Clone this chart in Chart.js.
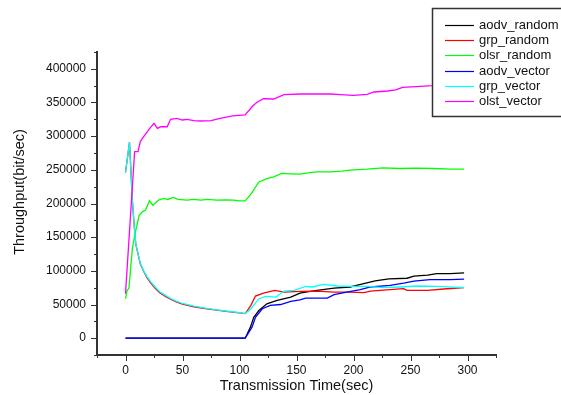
<!DOCTYPE html>
<html>
<head>
<meta charset="utf-8">
<script src="https://cdn.jsdelivr.net/npm/chart.js@4"></script>
<style>
  html, body { margin: 0; padding: 0; background: #fff; }
  canvas { display: block; }
</style>
</head>
<body>
<canvas id="chart" width="561" height="395"></canvas>
<script>
// ---- data: [time (sec), throughput (bit/sec)] ----
const seriesNames = ['aodv_random', 'grp_random', 'olsr_random', 'aodv_vector', 'grp_vector', 'olst_vector'];
const seriesColors = ['#000000', '#ff0000', '#00ff00', '#0000ff', '#00ffff', '#ff00ff'];

const aodvRandom = [
  [0, 0], [105, 0], [109.6, 16400], [112.5, 31000], [117, 41000], [124, 51000], [133, 56000],
  [145, 61000], [153, 67000], [158, 68500], [168, 71000], [183, 74400], [197, 76000], [209, 81000],
  [219, 85000], [231, 88000], [247, 89000], [253, 92000], [265, 93500], [273, 96000], [285, 96000], [297, 97000]
];
const grpRandom = [
  [0, 246000], [3.5, 291000], [5, 240000], [6, 205000], [7.5, 170000], [9, 140000], [13, 110000],
  [16, 99000], [19, 89500], [22, 82000], [26, 74000], [30, 67500], [35, 62000], [40, 57500],
  [45, 53500], [50, 50500], [60, 46500], [70, 44000], [80, 41500], [90, 39500], [100, 37500],
  [105, 36500], [110, 48700], [114, 62500], [121, 67000], [131, 71000], [139, 68500], [153, 69500],
  [168, 70000], [183, 68500], [197, 68500], [209, 67500], [215, 70000], [232, 72000], [244, 73500],
  [247, 71000], [265, 71000], [279, 73000], [297, 75000]
];
const olsrRandom = [
  [0, 58600], [1.5, 71000], [3, 74000], [6, 133000], [9, 160000], [12, 182500], [15, 188000],
  [17.5, 190000], [21, 204000], [24, 197500], [29, 205000], [33.6, 207500], [37, 206000], [42, 209000],
  [46, 206000], [54, 205000], [60, 206000], [66, 205000], [72, 206000], [80, 205000], [88, 205500],
  [95, 205000], [100, 204000], [105, 204000], [110, 214000], [117, 232000], [124, 237000], [130, 239500],
  [137, 244600], [145, 244000], [153, 243600], [160, 245500], [168, 247000], [180, 247000], [190, 248000],
  [197, 249500], [212, 251000], [226, 253000], [241, 252000], [255, 252500], [270, 252000], [285, 251000],
  [297, 251000]
];
const aodvVector = [
  [0, 0], [105, 0], [111, 16400], [114, 31000], [120, 43700], [127, 48700], [136, 50000], [145, 54600],
  [153, 57000], [158, 59500], [177, 59500], [183, 64600], [194, 68500], [206, 72000], [215, 76000],
  [232, 78400], [244, 81800], [253, 84800], [267, 86900], [285, 86900], [297, 87800]
];
const grpVector = [
  [0, 246000], [3.5, 291000], [5, 240000], [6, 205000], [7.5, 170000], [9, 140000], [13, 111000],
  [16, 100000], [19, 91000], [22, 84000], [26, 76000], [30, 69000], [35, 63500], [40, 58500],
  [45, 54500], [50, 51500], [60, 47500], [70, 44500], [80, 42000], [90, 40000], [100, 38000],
  [105, 36500], [110, 43700], [117, 58600], [123, 62000], [132, 61000], [139, 70000], [148, 71000],
  [158, 77000], [164, 76000], [174, 80000], [186, 77500], [200, 77000], [212, 77000], [227, 75000],
  [241, 76000], [256, 77500], [273, 77000], [297, 75000]
];
const olstVector = [
  [0, 66000], [8, 277000], [11, 277000], [13, 292000], [15, 297000], [19, 306500], [22, 313000],
  [25, 319000], [28, 311500], [31, 314000], [36.6, 314000], [39.5, 325000], [45, 326500], [50, 324000],
  [54, 325000], [60, 323000], [66, 322500], [75, 323000], [83, 326500], [94, 330000], [105, 331500],
  [111, 343700], [115, 350000], [121, 355600], [130, 355200], [139, 361600], [153, 362600], [168, 362600],
  [180, 362600], [189, 361600], [200, 360700], [212, 362000], [218, 365600], [230, 367100], [237, 368600],
  [243, 372600], [255, 373500], [269, 375000], [285, 378000], [297, 380000]
];
const seriesData = [aodvRandom, grpRandom, olsrRandom, aodvVector, grpVector, olstVector];

const xMin = -25, xMax = 325, xStep = 25, xLabelStep = 50;
const yMin = -25000, yMax = 425000, yStep = 25000, yLabelStep = 50000;

const FONT = '"Liberation Sans", Arial, sans-serif';
const AXIS = '#333';

// tick marks: long at labelled ticks, short between (outside the plot)
const tickMarks = {
  id: 'tickMarks',
  afterDraw(chart) {
    const ctx = chart.ctx;
    const { x, y } = chart.scales;
    ctx.save();
    ctx.strokeStyle = AXIS;
    ctx.lineWidth = 1;
    ctx.beginPath();
    x.ticks.forEach(t => {
      const px = Math.round(x.getPixelForValue(t.value)) + 0.5;
      const len = t.value % xLabelStep === 0 ? 6 : 3;
      ctx.moveTo(px, x.top);
      ctx.lineTo(px, x.top + len);
    });
    y.ticks.forEach(t => {
      const py = Math.round(y.getPixelForValue(t.value)) + 0.5;
      const len = t.value % yLabelStep === 0 ? 6 : 3;
      ctx.moveTo(y.right, py);
      ctx.lineTo(y.right - len, py);
    });
    ctx.stroke();
    ctx.restore();
  }
};

// y title (sits a bit above the plot centre in the original) and the boxed legend
const decorations = {
  id: 'decorations',
  afterDraw(chart) {
    const ctx = chart.ctx;
    ctx.save();
    ctx.fillStyle = '#111';
    ctx.font = '14.5px ' + FONT;
    ctx.textAlign = 'center';
    ctx.textBaseline = 'middle';
    ctx.translate(20, 192);
    ctx.rotate(-Math.PI / 2);
    ctx.fillText('Throughput(bit/sec)', 0, 0);
    ctx.restore();

    ctx.save();
    ctx.fillStyle = '#fff';
    ctx.strokeStyle = AXIS;
    ctx.lineWidth = 1.5;
    ctx.fillRect(432, 8, 140, 109);
    ctx.strokeRect(432.5, 8.5, 140, 108);
    ctx.font = '13px ' + FONT;
    ctx.textAlign = 'left';
    ctx.textBaseline = 'middle';
    chart.data.datasets.forEach((ds, i) => {
      const ry = Math.round(25 + i * 15.2) + 0.5;
      ctx.strokeStyle = ds.borderColor;
      ctx.lineWidth = 1.2;
      ctx.beginPath();
      ctx.moveTo(445, ry);
      ctx.lineTo(474, ry);
      ctx.stroke();
      ctx.fillStyle = '#111';
      ctx.fillText(ds.label, 479, ry);
    });
    ctx.restore();
  }
};

new Chart(document.getElementById('chart').getContext('2d'), {
  type: 'line',
  data: {
    datasets: seriesNames.map((name, i) => ({
      label: name,
      data: seriesData[i].map(p => ({ x: p[0], y: p[1] })),
      borderColor: seriesColors[i],
      backgroundColor: seriesColors[i],
      borderWidth: 1.3,
      pointRadius: 0,
      tension: 0,
      order: seriesNames.length - i
    }))
  },
  options: {
    responsive: false,
    animation: false,
    events: [],
    layout: { padding: { top: 52, right: 65, left: 0, bottom: 0 } },
    plugins: { legend: { display: false }, tooltip: { enabled: false } },
    scales: {
      x: {
        type: 'linear', min: xMin, max: xMax,
        afterFit: s => { s.height = 40; },
        grid: { display: false, drawTicks: false },
        border: { display: true, color: AXIS, width: 2 },
        ticks: {
          stepSize: xStep, padding: 8, color: '#111', maxRotation: 0, autoSkip: false,
          font: { family: FONT, size: 12 },
          callback: v => (v % xLabelStep === 0 ? String(v) : '')
        },
        title: { display: true, text: 'Transmission Time(sec)', color: '#111', padding: 0, font: { family: FONT, size: 14.5 } }
      },
      y: {
        type: 'linear', min: yMin, max: yMax,
        afterFit: s => { s.width = 97; },
        grid: { display: false, drawTicks: false },
        border: { display: true, color: AXIS, width: 2 },
        ticks: {
          stepSize: yStep, padding: 11, color: '#111', autoSkip: false,
          font: { family: FONT, size: 12 },
          callback: v => (v % yLabelStep === 0 ? String(v) : '')
        }
      }
    }
  },
  plugins: [tickMarks, decorations]
});
</script>
</body>
</html>
